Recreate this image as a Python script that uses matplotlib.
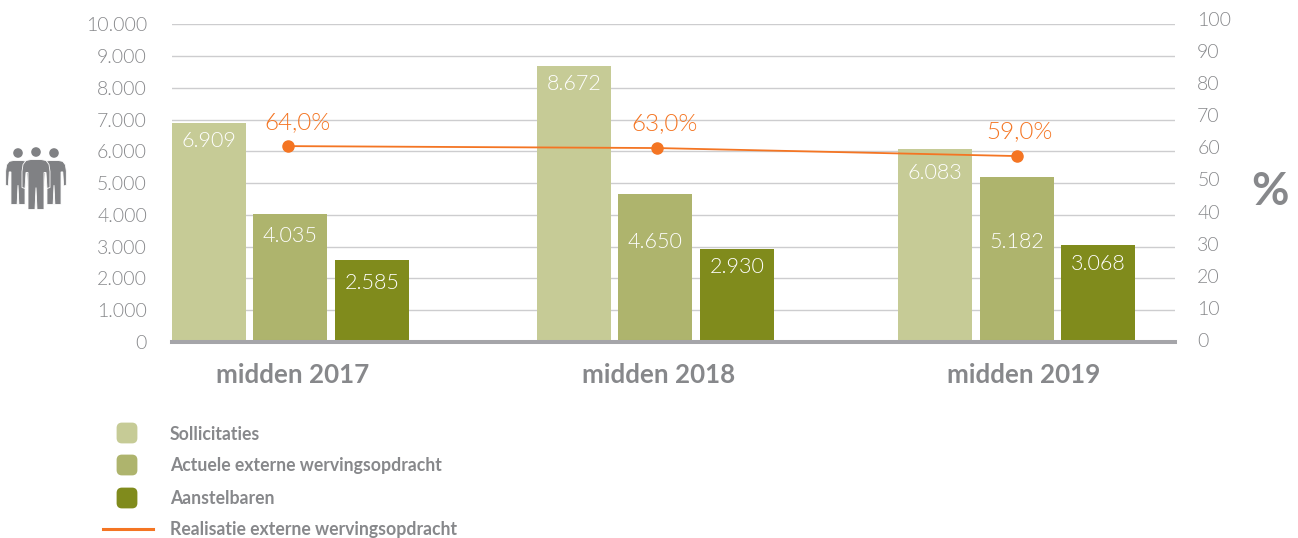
import matplotlib
matplotlib.use("Agg")
import matplotlib.pyplot as plt
from matplotlib.patches import Circle, FancyBboxPatch, Polygon
from matplotlib.lines import Line2D
from matplotlib.transforms import IdentityTransform

# ---- DATA ----
periods = ["midden 2017", "midden 2018", "midden 2019"]
sollicitaties = [6909, 8672, 6083]
actueel = [4035, 4650, 5182]
aanstelbaren = [2585, 2930, 3068]
realisatie_plot = [60.4, 59.8, 57.3]  # where the points sit in the picture
realisatie_label = ["64,0%", "63,0%", "59,0%"]
left_ticks = [0, 1000, 2000, 3000, 4000, 5000, 6000, 7000, 8000, 9000, 10000]
right_ticks = [0, 10, 20, 30, 40, 50, 60, 70, 80, 90, 100]
legend_names = ["Sollicitaties", "Actuele externe wervingsopdracht",
                "Aanstelbaren", "Realisatie externe wervingsopdracht"]

# ---- CONFIG ----
W, H = 1298, 538
PT = 0.72  # points per pixel at dpi 100
GREY = "#87888b"
ORANGE = "#f47523"
COLORS = ["#c6cb96", "#aeb46d", "#808b1c"]
BAR_W = 74
LIGHT = 300
group_left = [[172, 253, 335], [537, 618, 700], [898, 980, 1061]]
group_center = [293, 659, 1024]
line_x = [288, 657, 1017]
label_drop = [[18, 22, 23], [18, 48, 18], [24, 65, 19]]
pct_offset = [(9, 24), (8, 24), (3, 25)]

plt.rcParams["font.family"] = ["Lato", "DejaVu Sans"]


def box(x0, y_top, x1, y_bottom):
    # pixel box (from the top left) to figure fractions
    return [x0 / W, 1 - y_bottom / H, (x1 - x0) / W, (y_bottom - y_top) / H]


fig = plt.figure(figsize=(W / 100, H / 100), dpi=100)
ax = fig.add_axes(box(172, 24.3, 1175, 342))
ax2 = fig.add_axes(box(172, 19, 1175, 340))
ax2.patch.set_visible(False)

# ---- BARS ----
series = [sollicitaties, actueel, aanstelbaren]
for s, values in enumerate(series):
    for g, v in enumerate(values):
        ax.bar(group_left[g][s], v, width=BAR_W, align="edge",
               color=COLORS[s], zorder=3)
        ax.annotate(f"{v:,}".replace(",", "."),
                    (group_left[g][s] + BAR_W / 2, v),
                    xytext=(0, -label_drop[g][s] * PT),
                    textcoords="offset points", ha="center", va="center",
                    color="white", fontsize=15.5, fontweight=LIGHT, zorder=4)

ax.set_xlim(172, 1175)
ax.set_ylim(0, 10000)
ax.set_yticks(left_ticks)
ax.set_yticklabels([f"{t:,}".replace(",", ".") for t in left_ticks],
                   fontweight=LIGHT)
ax.tick_params(axis="y", length=0, pad=18, labelcolor=GREY, labelsize=14)
ax.set_xticks(group_center)
ax.set_xticklabels(periods, fontsize=18.7, fontweight="bold", color=GREY)
ax.tick_params(axis="x", length=0, pad=15)
ax.grid(axis="y", color="#cdcdcf", linewidth=1.0, zorder=0)
for side in ["top", "left", "right"]:
    ax.spines[side].set_visible(False)
ax.spines["bottom"].set_color("#a5a5a9")
ax.spines["bottom"].set_linewidth(2.9)
ax.spines["bottom"].set_zorder(5)

# ---- LINE ----
ax2.plot(line_x, realisatie_plot, color=ORANGE, linewidth=1.3, marker="o",
         markersize=8, zorder=6)
for x, y, txt, off in zip(line_x, realisatie_plot, realisatie_label, pct_offset):
    ax2.annotate(txt, (x, y), xytext=(off[0] * PT, off[1] * PT),
                 textcoords="offset points", ha="center", va="center",
                 color=ORANGE, fontsize=17.5, fontweight=LIGHT)
ax2.set_xlim(172, 1175)
ax2.set_ylim(0, 100)
ax2.set_xticks([])
ax2.yaxis.tick_right()
ax2.set_yticks(right_ticks)
ax2.set_yticklabels([str(t) for t in right_ticks], fontweight=LIGHT)
ax2.tick_params(axis="y", length=0, pad=16, labelcolor=GREY, labelsize=14)
for spine in ax2.spines.values():
    spine.set_visible(False)

fig.text(1270 / W, 1 - 192 / H, "%", color=GREY, fontsize=33,
         fontweight="bold", ha="center", va="center")

# ---- PEOPLE ICON ----
icon_c = "#808184"


def person(cx, head_y, scale, zorder):
    pts = [(-5, 0), (5, 0), (10, 1), (13, 5), (14, 12), (14, 28), (11, 29), (10, 13),
           (8, 13), (8, 50), (1, 50), (0, 28), (-1, 50), (-8, 50), (-8, 13), (-10, 13),
           (-11, 29), (-14, 28), (-14, 12), (-13, 5), (-10, 1)]
    xy = [(cx + px * scale, H - (head_y + 7.5 + py * scale)) for px, py in pts]
    fig.add_artist(Polygon(xy, closed=True, transform=IdentityTransform(),
                           facecolor=icon_c, edgecolor="white", linewidth=0.6,
                           zorder=zorder))
    fig.add_artist(Circle((cx, H - head_y), 4.8, transform=IdentityTransform(),
                          facecolor=icon_c, edgecolor="none", zorder=zorder))


person(18, 153, 0.88, 1)
person(54, 153, 0.88, 1)
person(36, 152, 1.0, 2)

# ---- LEGEND ----
swatch_y = [422, 454, 487]
text_y = [435, 466, 498, 529]
for c, y in zip(COLORS, swatch_y):
    fig.add_artist(FancyBboxPatch((118 / W, 1 - (y + 20) / H), 18 / W, 18 / H,
                                  boxstyle="round,pad=0,rounding_size=0.003",
                                  transform=fig.transFigure, facecolor=c,
                                  edgecolor=c, linewidth=2, mutation_aspect=W / H))
fig.add_artist(Line2D([103 / W, 153 / W], [1 - 528.5 / H] * 2, color=ORANGE,
                      linewidth=2.2, transform=fig.transFigure))
for name, y in zip(legend_names, text_y):
    fig.text(170 / W, 1 - y / H, name, color=GREY, fontsize=12.7,
             fontweight="bold", va="center")

fig.savefig("out.png", dpi=100)
